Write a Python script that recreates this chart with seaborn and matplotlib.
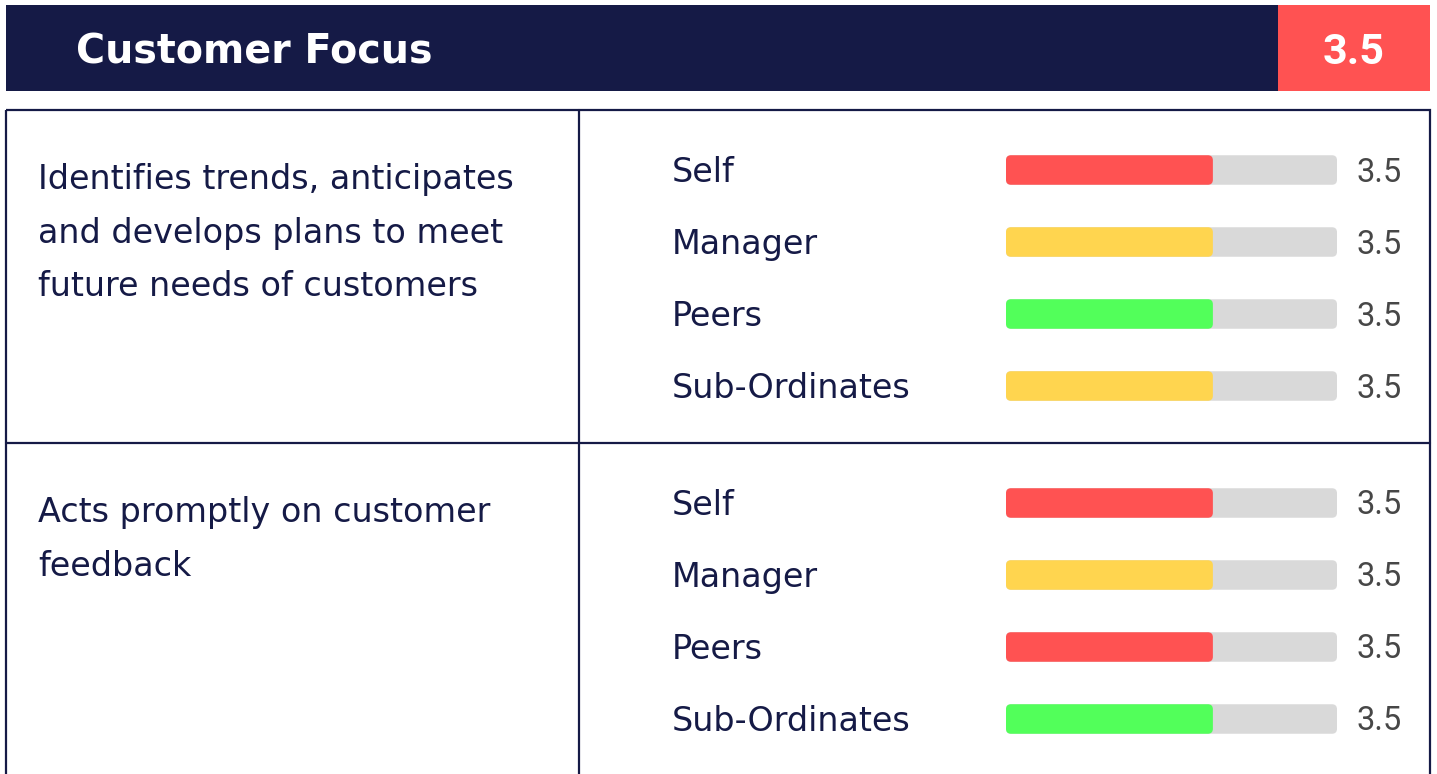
import matplotlib
matplotlib.use("Agg")
import matplotlib.pyplot as plt
import matplotlib.transforms as mtransforms
from matplotlib.patches import Rectangle, FancyBboxPatch
import seaborn as sns

# --- data ---
title = "Customer Focus"
overall_score = 3.5
statements = [
    ["Identifies trends, anticipates", "and develops plans to meet", "future needs of customers"],
    ["Acts promptly on customer", "feedback"],
]
raters = ["Self", "Manager", "Peers", "Sub-Ordinates"]
scores = [
    [3.5, 3.5, 3.5, 3.5],
    [3.5, 3.5, 3.5, 3.5],
]
scale_max = 5.6  # track length, estimated from fill ratio

# --- styles ---
NAVY = "#151a46"
RED = "#ff5252"
YELLOW = "#ffd54f"
GREEN = "#52ff5a"
TRACK = "#d9d9d9"
VALUE_GREY = "#474747"
fill_colors = [
    [RED, YELLOW, GREEN, YELLOW],
    [RED, YELLOW, RED, GREEN],
]

sns.set_style("white")
plt.rcParams["font.family"] = ["DejaVu Sans"]

W, H = 1437, 774
fig = plt.figure(figsize=(W / 100, H / 100), dpi=100)
fig.patch.set_facecolor("white")

# background axes in pixel coordinates for the frame
bg = fig.add_axes([0, 0, 1, 1])
bg.set_xlim(0, W)
bg.set_ylim(H, 0)
bg.axis("off")

# header band
bg.add_patch(Rectangle((6, 5), 1424, 86, color=NAVY, lw=0))
bg.add_patch(Rectangle((1278, 5), 152, 86, color=RED, lw=0))
bg.text(76, 63, title, color="white", fontsize=28.5, fontweight="bold", va="baseline")
bg.text(1354, 64, f"{overall_score}", color="white", fontsize=31, fontweight="bold",
        family=["Roboto", "DejaVu Sans"], ha="center", va="baseline")

# table frame
bg.add_patch(Rectangle((6, 110), 1424, 700, fill=False, ec=NAVY, lw=1.6))
bg.plot([579, 579], [110, H], color=NAVY, lw=1.6)
bg.plot([6, 1430], [443, 443], color=NAVY, lw=1.6)

block_h = 333
row_gap = 72
bar_left, bar_w = 1006, 331

for b, (lines, vals, cols) in enumerate(zip(statements, scores, fill_colors)):
    top = 110 + block_h * b

    # statement text on the left
    for k, line in enumerate(lines):
        bg.text(38, top + 79 + 53.5 * k, line, color=NAVY, fontsize=24, va="baseline")

    # bar axes for this block
    first = top + 60
    ax_top = first - row_gap / 2
    ax_h = row_gap * len(raters)
    ax = fig.add_axes([bar_left / W, 1 - (ax_top + ax_h) / H, bar_w / W, ax_h / H])

    sns.barplot(x=[scale_max] * len(raters), y=raters, color=TRACK, saturation=1,
                width=0.41, errorbar=None, orient="h", ax=ax)
    sns.barplot(x=vals, y=raters, hue=raters, palette=cols, saturation=1,
                width=0.41, errorbar=None, orient="h", legend=False, ax=ax)
    ax.set_xlim(0, scale_max)
    ax.set_ylim(len(raters) - 0.5, -0.5)
    ax.axis("off")

    # round the bar corners (5 px radius)
    r = 5 * scale_max / bar_w
    aspect = (1 / row_gap) / (scale_max / bar_w)
    for p in list(ax.patches):
        x0, y0, w, h = p.get_x(), p.get_y(), p.get_width(), p.get_height()
        fc = p.get_facecolor()
        z = p.get_zorder()
        p.remove()
        ax.add_patch(FancyBboxPatch((x0, y0), w, h,
                                    boxstyle=f"round,pad=0,rounding_size={r}",
                                    mutation_aspect=aspect, fc=fc, lw=0, zorder=z))

    # labels and values
    blend = mtransforms.blended_transform_factory(ax.transAxes, ax.transData)
    lab_tr = mtransforms.offset_copy(blend, fig=fig, y=-12.3, units="dots")
    val_tr = mtransforms.offset_copy(blend, fig=fig, y=-11.5, units="dots")
    for i, (name, v) in enumerate(zip(raters, vals)):
        ax.text((672 - bar_left) / bar_w, i, name, transform=lab_tr, color=NAVY,
                fontsize=24, va="baseline", clip_on=False)
        ax.text((1356 - bar_left) / bar_w, i, f"{v}", transform=val_tr, color=VALUE_GREY,
                fontsize=23.5, fontweight="normal", family=["Roboto", "DejaVu Sans"],
                va="baseline", clip_on=False)

fig.savefig("out.png", dpi=100)
